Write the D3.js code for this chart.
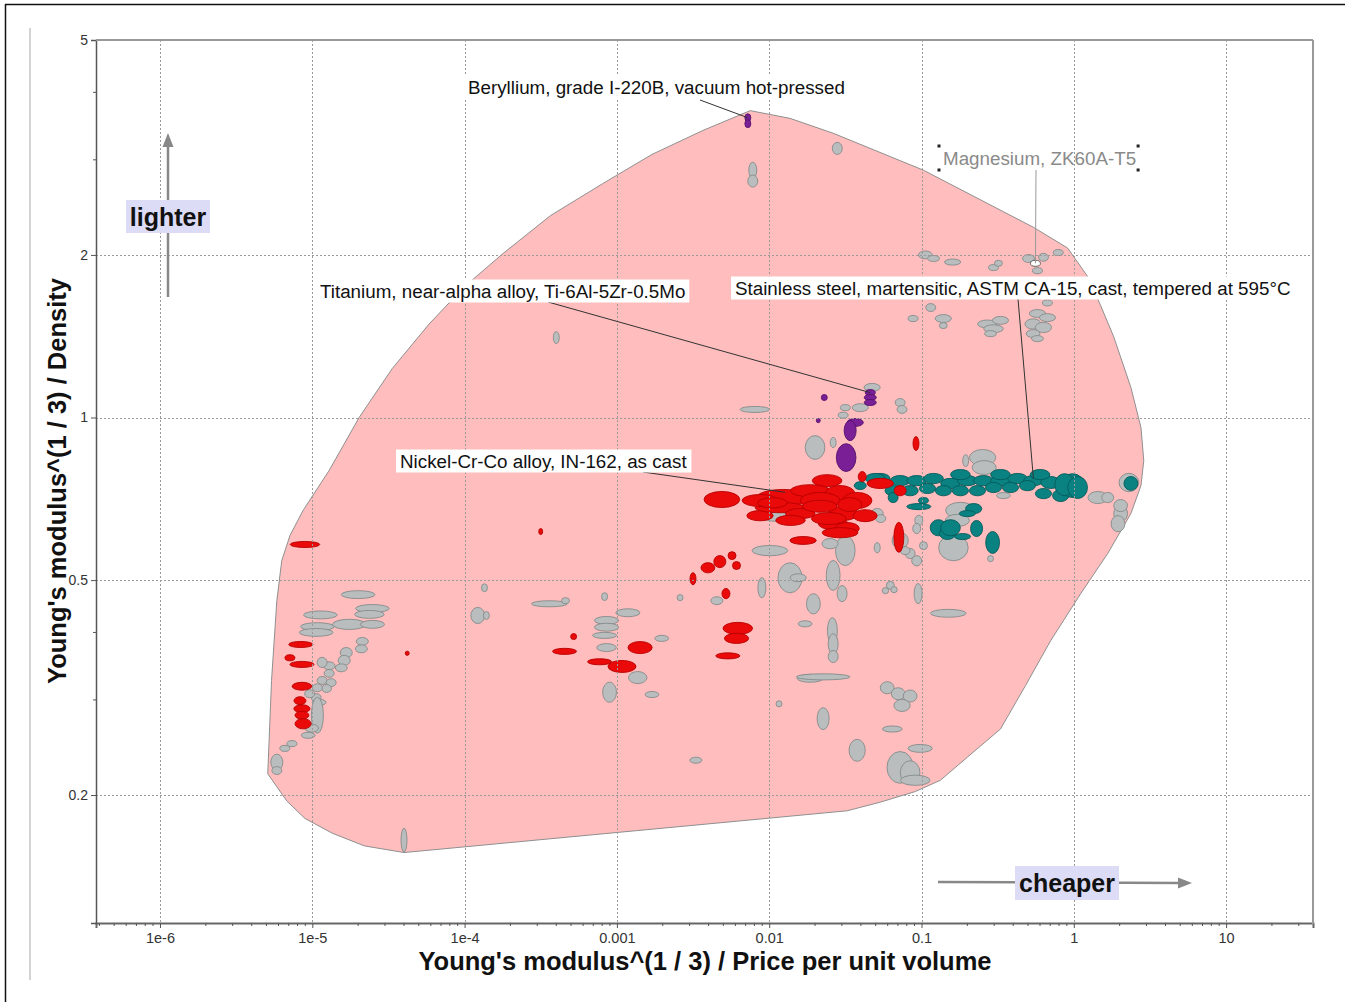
<!DOCTYPE html>
<html>
<head>
<meta charset="utf-8">
<script src="https://cdn.jsdelivr.net/npm/d3@7"></script>
<style>
  body { margin: 0; background: #fff; }
  svg { display: block; font-family: "Liberation Sans", Arial, Helvetica, sans-serif; }
</style>
</head>
<body>
<svg id="chart" width="1345" height="1002"></svg>
<script>
// ---- Axis ranges and ticks ----
const xDomain = [3.8e-7, 37.2];
const yDomain = [0.1159, 5];
const xMajorTicks = [1e-6, 1e-5, 1e-4, 1e-3, 1e-2, 1e-1, 1, 10];
const xTickLabels = ["1e-6", "1e-5", "1e-4", "0.001", "0.01", "0.1", "1", "10"];
const yMajorTicks = [0.2, 0.5, 1, 2, 5];
const yTickLabels = ["0.2", "0.5", "1", "2", "5"];
const yMinorTicks = [0.3, 0.4, 3, 4];

// ---- Property envelope of all metals: [E^(1/3)/(price*rho), E^(1/3)/rho] ----
const envelope = [
  [0.0075, 3.70], [0.0137, 3.58], [0.0263, 3.36], [0.103, 2.87], [0.543, 2.25], [0.91, 2.06],
  [1.24, 1.82], [1.50, 1.612], [1.83, 1.41], [2.37, 1.137], [2.76, 0.958], [2.88, 0.832],
  [2.76, 0.748], [2.37, 0.664], [1.67, 0.560], [1.11, 0.472], [0.704, 0.386],
  [0.482, 0.319], [0.33, 0.265], [0.20, 0.235], [0.133, 0.213], [0.091, 0.203],
  [0.0536, 0.194], [0.0325, 0.187], [4.0e-5, 0.1565], [2.2e-5, 0.161], [1.35e-5, 0.170],
  [8.95e-6, 0.181], [6.8e-6, 0.195], [5.1e-6, 0.219], [5.4e-6, 0.326], [5.85e-6, 0.458],
  [6.3e-6, 0.543], [7.14e-6, 0.605], [8.7e-6, 0.673], [1.29e-5, 0.798],
  [2.03e-5, 1.0], [3.35e-5, 1.232], [5.85e-5, 1.49], [1.0e-4, 1.748], [1.78e-4, 2.01],
  [3.67e-4, 2.366], [8.06e-4, 2.71], [1.70e-3, 3.07], [3.67e-3, 3.40]
];

// ---- Materials: [x centre, y centre, x spread factor, y spread factor] ----
const otherMetals = [
  [2.0e-5,0.47,1.29,1.017],[2.48e-5,0.443,1.29,1.017],[2.37e-5,0.432,1.25,1.017],
  [1.13e-5,0.431,1.29,1.017],[1.08e-5,0.41,1.29,1.017],[1.06e-5,0.40,1.29,1.017],
  [1.75e-5,0.414,1.29,1.022],[2.48e-5,0.414,1.2,1.017],[2.13e-5,0.385,1.095,1.017],
  [2.1e-5,0.373,1.095,1.017],[1.67e-5,0.367,1.095,1.022],[1.62e-5,0.355,1.095,1.022],
  [1.55e-5,0.344,1.095,1.017],[1.29e-5,0.347,1.095,1.017],[1.16e-5,0.352,1.078,1.022],
  [1.29e-5,0.336,1.078,1.017],[1.16e-5,0.326,1.078,1.017],[1.33e-5,0.323,1.078,1.017],
  [1.24e-5,0.315,1.078,1.017],[1.08e-5,0.316,1.078,1.017],[1.06e-5,0.303,1.078,1.017],
  [1.11e-5,0.297,1.11,1.013],[1.08e-5,0.281,1.095,1.08],[9.6e-6,0.308,1.078,1.017],
  [9.9e-6,0.266,1.11,1.017],[9.4e-6,0.258,1.11,1.013],[7.35e-6,0.249,1.078,1.013],
  [6.6e-6,0.244,1.078,1.013],[5.85e-6,0.23,1.095,1.035],[5.85e-6,0.222,1.078,1.017],
  [1.35e-4,0.484,1.046,1.017],[1.22e-4,0.43,1.11,1.035],[1.39e-4,0.43,1.046,1.017],
  [3.6e-4,0.452,1.31,1.013],[4.6e-4,0.458,1.062,1.013],[4.0e-5,0.165,1.046,1.052],
  [8.3e-4,0.466,1.046,1.017],[1.18e-3,0.435,1.2,1.017],[8.55e-4,0.421,1.2,1.017],
  [8.55e-4,0.409,1.2,1.017],[8.3e-4,0.395,1.2,1.013],[8.55e-4,0.375,1.16,1.017],
  [8.95e-4,0.310,1.11,1.044],[1.37e-3,0.330,1.15,1.026],[1.70e-3,0.307,1.11,1.013],
  [1.97e-3,0.390,1.11,1.013],[2.6e-3,0.464,1.046,1.013],[4.53e-3,0.458,1.095,1.017],
  [3.3e-3,0.232,1.095,1.013],[8.95e-3,0.484,1.062,1.044],[0.0137,0.505,1.2,1.066],
  [0.0155,0.505,1.13,1.017],[0.0195,0.452,1.11,1.044],[0.0172,0.415,1.11,1.013],
  [0.026,0.403,1.078,1.057],[0.0263,0.381,1.078,1.044],[0.0263,0.361,1.078,1.026],
  [0.0186,0.329,1.22,1.017],[0.0226,0.331,1.5,1.013],[0.0116,0.295,1.046,1.013],
  [0.0226,0.277,1.095,1.048],[0.0378,0.242,1.13,1.048],[0.0263,0.51,1.11,1.066],
  [0.0301,0.472,1.078,1.035],[0.0595,0.316,1.11,1.026],[0.0703,0.308,1.11,1.026],
  [0.0842,0.305,1.11,1.026],[0.0745,0.293,1.13,1.026],[0.0643,0.265,1.16,1.013],
  [0.098,0.244,1.2,1.017],[0.0724,0.225,1.22,1.07],[0.0842,0.22,1.16,1.052],
  [0.091,0.213,1.25,1.022],[0.095,0.472,1.062,1.044],[0.150,0.434,1.31,1.017],
  [0.0624,0.489,1.062,1.017],[0.066,0.48,1.05,1.013],[0.058,0.478,1.05,1.013],
  [0.162,0.574,1.25,1.057],[0.284,0.548,1.046,1.013],[0.020,0.88,1.16,1.052],
  [0.0263,0.899,1.046,1.022],[8.05e-3,1.035,1.25,1.013],[0.0316,1.043,1.078,1.013],
  [0.0306,1.01,1.078,1.013],[0.0396,1.043,1.13,1.017],[0.0474,1.137,1.13,1.017],
  [0.0724,1.066,1.078,1.017],[0.0745,1.035,1.078,1.017],[0.195,0.832,1.046,1.026],
  [0.0316,0.567,1.16,1.066],[0.0251,0.584,1.13,1.022],[0.0101,0.567,1.31,1.022],
  [4.0e-4,1.406,1.046,1.026],[0.028,3.15,1.078,1.026],[7.8e-3,2.87,1.062,1.035],
  [7.8e-3,2.74,1.078,1.026],[0.106,2.0,1.11,1.017],[0.12,1.97,1.095,1.013],
  [0.160,1.94,1.13,1.013],[0.297,1.895,1.078,1.013],[0.32,1.93,1.062,1.013],
  [0.504,1.97,1.095,1.017],[0.632,1.98,1.078,1.017],[0.577,1.87,1.078,1.013],
  [0.79,2.02,1.078,1.013],[0.088,1.525,1.078,1.013],[0.115,1.598,1.078,1.017],
  [0.139,1.525,1.13,1.017],[0.139,1.48,1.062,1.013],[0.271,1.49,1.16,1.017],
  [0.297,1.46,1.16,1.017],[0.33,1.513,1.13,1.017],[0.284,1.43,1.095,1.013],
  [0.577,1.558,1.13,1.017],[0.671,1.531,1.13,1.017],[0.54,1.49,1.13,1.022],
  [0.632,1.468,1.13,1.022],[0.54,1.43,1.11,1.017],[0.577,1.40,1.095,1.013],
  [0.671,1.63,1.078,1.013],[0.252,0.843,1.22,1.035],[0.258,0.808,1.2,1.03],
  [0.180,0.673,1.25,1.035],[0.172,0.645,1.2,1.026],[1.437,0.711,1.16,1.026],
  [1.67,0.711,1.095,1.022],[2.03,0.664,1.11,1.035],[1.95,0.636,1.11,1.035],
  [2.03,0.687,1.11,1.026],[0.345,0.717,1.11,1.013],[0.0512,0.664,1.095,1.022],
  [0.054,0.65,1.078,1.017],[0.096,0.645,1.062,1.022],[0.093,0.623,1.062,1.022],
  [0.0724,0.592,1.13,1.035],[0.0842,0.56,1.078,1.022],[0.093,0.543,1.078,1.022],
  [0.078,0.567,1.078,1.017],[0.103,0.579,1.062,1.017],[0.0512,0.574,1.046,1.022],
  [2.30,0.758,1.16,1.04],[0.0112,0.655,1.25,1.02]
];

const nickelAlloys = [
  [8.95e-6,0.582,1.25,1.013],[8.4e-6,0.38,1.2,1.013],[7.13e-6,0.359,1.078,1.013],
  [8.55e-6,0.349,1.2,1.013],[8.55e-6,0.318,1.16,1.017],[8.3e-6,0.299,1.095,1.017],
  [8.55e-6,0.289,1.13,1.017],[8.55e-6,0.281,1.11,1.017],[8.7e-6,0.271,1.13,1.022],
  [3.16e-4,0.615,1.03,1.013],[4.2e-5,0.366,1.03,1.009],
  [0.092,0.895,1.046,1.03],[0.0408,0.777,1.062,1.022],[4.89e-3,0.705,1.31,1.035],
  [8.7e-3,0.658,1.22,1.022],[0.024,0.764,1.25,1.026],[0.0124,0.711,1.5,1.035],
  [0.0186,0.732,1.35,1.026],[0.0292,0.723,1.25,1.035],[0.0378,0.702,1.25,1.035],
  [0.0118,0.681,1.46,1.022],[0.016,0.664,1.25,1.022],[0.0306,0.664,1.25,1.03],
  [0.0263,0.636,1.25,1.026],[0.0325,0.623,1.2,1.026],[0.0292,0.612,1.31,1.022],
  [0.0536,0.755,1.22,1.022],[0.0724,0.732,1.095,1.022],[0.071,0.600,1.078,1.066],
  [0.0167,0.592,1.22,1.017],[8.7e-3,0.702,1.31,1.026],[0.0216,0.702,1.35,1.035],
  [0.0426,0.658,1.2,1.026],[0.0138,0.645,1.25,1.022],[0.0215,0.685,1.3,1.026],
  [0.0338,0.690,1.2,1.03],[0.0105,0.695,1.25,1.022],[0.0246,0.650,1.3,1.026],
  [1.42e-3,0.375,1.2,1.026],[4.53e-4,0.369,1.2,1.013],[7.7e-4,0.353,1.2,1.013],
  [1.08e-3,0.346,1.236,1.026],[5.2e-4,0.393,1.046,1.013],[6.22e-3,0.407,1.25,1.026],
  [6.1e-3,0.390,1.2,1.022],[5.35e-3,0.362,1.2,1.013],[3.16e-3,0.503,1.046,1.026],
  [3.96e-3,0.527,1.11,1.022],[4.74e-3,0.541,1.095,1.026],[5.7e-3,0.555,1.062,1.017],
  [6.1e-3,0.532,1.062,1.017],[5.2e-3,0.472,1.062,1.022]
];

const stainlessSteels = [
  [0.0536,0.771,1.16,1.022],[0.0724,0.764,1.16,1.022],[0.093,0.764,1.16,1.022],
  [0.12,0.771,1.16,1.022],[0.155,0.755,1.16,1.022],[0.20,0.764,1.16,1.022],
  [0.255,0.764,1.16,1.022],[0.33,0.764,1.16,1.022],[0.427,0.771,1.16,1.022],
  [0.543,0.764,1.16,1.022],[0.704,0.758,1.16,1.026],
  [0.0651,0.732,1.13,1.022],[0.0842,0.732,1.13,1.022],[0.1095,0.739,1.13,1.022],
  [0.1394,0.732,1.13,1.022],[0.18,0.732,1.13,1.022],[0.233,0.732,1.13,1.022],
  [0.297,0.742,1.13,1.022],[0.384,0.742,1.13,1.022],[0.496,0.748,1.13,1.022],
  [0.632,0.723,1.13,1.022],[0.82,0.717,1.13,1.026],
  [0.18,0.784,1.16,1.022],[0.33,0.784,1.16,1.022],[0.60,0.784,1.16,1.022],
  [0.98,0.748,1.2,1.052],[0.87,0.751,1.16,1.048],[1.06,0.742,1.16,1.048],
  [0.0651,0.711,1.078,1.022],[0.096,0.684,1.2,1.013],[0.129,0.625,1.13,1.035],
  [0.148,0.610,1.13,1.026],[0.186,0.602,1.13,1.013],[0.23,0.623,1.095,1.035],
  [0.22,0.678,1.13,1.022],[0.20,0.664,1.13,1.013],[0.293,0.587,1.11,1.048],
  [2.37,0.755,1.11,1.03],[0.155,0.625,1.16,1.035],[0.0133,0.708,1.095,1.013],
  [0.103,0.702,1.078,1.013],[0.0496,0.771,1.16,1.022],[0.0396,0.748,1.095,1.017]
];

const titaniumBeryllium = [
  [7.24e-3,3.59,1.046,1.017],[7.24e-3,3.50,1.046,1.017],
  [0.0461,1.112,1.078,1.013],[0.0461,1.089,1.095,1.013],[0.0461,1.066,1.095,1.013],
  [0.0230,1.089,1.046,1.013],[0.021,0.987,1.03,1.009],[0.0367,0.979,1.13,1.017],
  [0.034,0.946,1.095,1.044],[0.032,0.843,1.16,1.061]
];

const magnesiumZK60A = [0.56, 1.93, 1.078, 1.013];

// ---- Annotated records (label text, material they point at) ----
const labelTexts = [
  "Beryllium, grade I-220B, vacuum hot-pressed",
  "Titanium, near-alpha alloy, Ti-6Al-5Zr-0.5Mo",
  "Nickel-Cr-Co alloy, IN-162, as cast",
  "Stainless steel, martensitic, ASTM CA-15, cast, tempered at 595°C"
];
const labelTargets = [
  [7.24e-3, 3.59], [0.0461, 1.112], [0.0127, 0.727], [0.543, 0.771]
];

// ---- Layout ----
const svg = d3.select("#chart");
const plot = { left: 96, right: 1313, top: 40, bottom: 923 };
const x = d3.scaleLog().domain(xDomain).range([plot.left, plot.right]);
const y = d3.scaleLog().domain(yDomain).range([plot.bottom, plot.top]);

// page frame
svg.append("line").attr("x1", 5).attr("y1", 4.5).attr("x2", 1345).attr("y2", 4.5)
  .attr("stroke", "#111").attr("stroke-width", 1.5);
svg.append("line").attr("x1", 5.5).attr("y1", 4).attr("x2", 5.5).attr("y2", 1002)
  .attr("stroke", "#111").attr("stroke-width", 1.5);
svg.append("line").attr("x1", 30).attr("y1", 28).attr("x2", 30).attr("y2", 980)
  .attr("stroke", "#d4d4d4").attr("stroke-width", 2);

svg.append("defs").append("clipPath").attr("id", "plotclip")
  .append("rect").attr("x", plot.left).attr("y", plot.top)
  .attr("width", plot.right - plot.left).attr("height", plot.bottom - plot.top);

const g = svg.append("g").attr("clip-path", "url(#plotclip)");

// envelope
g.append("path")
  .datum(envelope)
  .attr("d", d3.line().x(d => x(d[0])).y(d => y(d[1])).curve(d3.curveLinearClosed))
  .attr("fill", "#ffbdbd").attr("stroke", "#8f8f8f").attr("stroke-width", 1)
  .attr("stroke-linejoin", "round");

// grid
const grid = svg.append("g").attr("stroke", "#9a9a9a").attr("stroke-dasharray", "2,2").attr("stroke-width", 1);
grid.selectAll("line.gx").data(xMajorTicks).join("line")
  .attr("x1", d => Math.round(x(d)) + 0.5).attr("x2", d => Math.round(x(d)) + 0.5)
  .attr("y1", plot.top).attr("y2", plot.bottom);
grid.selectAll("line.gy").data(yMajorTicks).join("line")
  .attr("y1", d => Math.round(y(d)) + 0.5).attr("y2", d => Math.round(y(d)) + 0.5)
  .attr("x1", plot.left).attr("x2", plot.right);

// material bubbles
function drawBubbles(data, fill, stroke) {
  g.append("g").selectAll("ellipse").data(data).join("ellipse")
    .attr("cx", d => x(d[0]))
    .attr("cy", d => y(d[1]))
    .attr("rx", d => (x(d[0] * d[2]) - x(d[0] / d[2])) / 2)
    .attr("ry", d => (y(d[1] / d[3]) - y(d[1] * d[3])) / 2)
    .attr("fill", fill).attr("stroke", stroke).attr("stroke-width", 0.9);
}
drawBubbles(otherMetals, "#b9bdbd", "#858b8b");
drawBubbles(stainlessSteels, "#0b8282", "#035a5a");
drawBubbles(nickelAlloys, "#ea0a0a", "#b80000");
drawBubbles(titaniumBeryllium, "#7a1f96", "#55106b");
drawBubbles([magnesiumZK60A], "#ffffff", "#555");

// axes
const axisColor = "#555";
const xAxis = d3.axisBottom(x).tickValues(xMajorTicks)
  .tickFormat((d, i) => xTickLabels[i]).tickSize(5).tickPadding(5);
const xMinor = [];
xMajorTicks.concat([1e-7]).forEach(b => { for (let k = 2; k <= 9; k++) { const v = b * k; if (v > xDomain[0] && v < xDomain[1]) xMinor.push(v); } });
const gx = svg.append("g").attr("transform", `translate(0,${plot.bottom})`).call(xAxis);
svg.append("g").attr("transform", `translate(0,${plot.bottom})`)
  .selectAll("line").data(xMinor).join("line")
  .attr("x1", d => x(d)).attr("x2", d => x(d)).attr("y1", 0).attr("y2", 3)
  .attr("stroke", axisColor);
gx.select(".domain").attr("stroke", "#666").attr("stroke-width", 2);
gx.selectAll(".tick line").attr("stroke", axisColor);
gx.selectAll(".tick text").attr("font-size", 14.5).attr("fill", "#333")
  .attr("font-family", "Liberation Sans, Arial, sans-serif");

const yAxis = d3.axisLeft(y).tickValues(yMajorTicks)
  .tickFormat((d, i) => yTickLabels[i]).tickSize(5).tickPadding(3);
const gy = svg.append("g").attr("transform", `translate(${plot.left},0)`).call(yAxis);
svg.append("g").attr("transform", `translate(${plot.left},0)`)
  .selectAll("line").data(yMinorTicks).join("line")
  .attr("x1", -3).attr("x2", 0).attr("y1", d => y(d)).attr("y2", d => y(d))
  .attr("stroke", axisColor);
gy.select(".domain").attr("stroke", "#555").attr("stroke-width", 1.5);
gy.selectAll(".tick line").attr("stroke", axisColor);
gy.selectAll(".tick text").attr("font-size", 14).attr("fill", "#333")
  .attr("font-family", "Liberation Sans, Arial, sans-serif");

// top and right frame
svg.append("line").attr("x1", plot.left).attr("x2", plot.right).attr("y1", plot.top).attr("y2", plot.top)
  .attr("stroke", "#999").attr("stroke-width", 2);
svg.append("line").attr("x1", plot.right).attr("x2", plot.right).attr("y1", plot.top).attr("y2", plot.bottom + 1)
  .attr("stroke", "#999").attr("stroke-width", 2);

// axis titles
svg.append("text").attr("x", 705).attr("y", 961).attr("text-anchor", "middle")
  .attr("dominant-baseline", "central").attr("font-weight", "bold").attr("font-size", 25.5)
  .attr("fill", "#111").text("Young's modulus^(1 / 3) / Price per unit volume");
svg.append("text").attr("transform", "translate(57,481) rotate(-90)").attr("text-anchor", "middle")
  .attr("dominant-baseline", "central").attr("font-weight", "bold").attr("font-size", 25.5)
  .attr("fill", "#111").text("Young's modulus^(1 / 3) / Density");

// direction hints
const hint = svg.append("g");
hint.append("line").attr("x1", 168).attr("y1", 297).attr("x2", 168).attr("y2", 145)
  .attr("stroke", "#888").attr("stroke-width", 2.5);
hint.append("path").attr("d", "M168,133 L162.5,147 L173.5,147 Z").attr("fill", "#888");
hint.append("rect").attr("x", 126).attr("y", 200).attr("width", 84).attr("height", 33).attr("fill", "#dcdcf6");
hint.append("text").attr("x", 168).attr("y", 217).attr("text-anchor", "middle").attr("dominant-baseline", "central")
  .attr("font-weight", "bold").attr("font-size", 25).attr("fill", "#111").text("lighter");

hint.append("line").attr("x1", 938).attr("y1", 882).attr("x2", 1180).attr("y2", 883)
  .attr("stroke", "#888").attr("stroke-width", 2.5);
hint.append("path").attr("d", "M1192,883 L1178,877.5 L1178,888.5 Z").attr("fill", "#888");
hint.append("rect").attr("x", 1015).attr("y", 866).attr("width", 104).attr("height", 34).attr("fill", "#dcdcf6");
hint.append("text").attr("x", 1067).attr("y", 883).attr("text-anchor", "middle").attr("dominant-baseline", "central")
  .attr("font-weight", "bold").attr("font-size", 25).attr("fill", "#111").text("cheaper");

// annotation labels with leader lines
const labelLayout = [
  { tx: 468, ty: 87, lx: 700, ly: 100 },
  { tx: 320, ty: 291, lx: 548, ly: 302 },
  { tx: 400, ty: 461, lx: 643, ly: 472 },
  { tx: 735, ty: 288, lx: 1018, ly: 299 }
];
const ann = svg.append("g");
labelTexts.forEach((t, i) => {
  const L = labelLayout[i];
  ann.append("line").attr("x1", L.lx).attr("y1", L.ly)
    .attr("x2", x(labelTargets[i][0])).attr("y2", y(labelTargets[i][1]))
    .attr("stroke", "#333").attr("stroke-width", 1);
  const grp = ann.append("g");
  const txt = grp.append("text").attr("x", L.tx).attr("y", L.ty).attr("dominant-baseline", "central")
    .attr("font-size", 18.8).attr("fill", "#111").text(t);
  const bb = txt.node().getBBox();
  grp.insert("rect", "text").attr("x", bb.x - 4).attr("y", L.ty - 11.5)
    .attr("width", bb.width + 8).attr("height", 23).attr("fill", "#fff");
});

// Magnesium selection label
const mg = svg.append("g");
mg.append("line").attr("x1", 1036).attr("y1", 170)
  .attr("x2", x(magnesiumZK60A[0])).attr("y2", y(magnesiumZK60A[1]))
  .attr("stroke", "#999").attr("stroke-width", 1);
const mgText = mg.append("text").attr("x", 943).attr("y", 158).attr("dominant-baseline", "central")
  .attr("font-size", 18.8).attr("fill", "#8a8a8a").text("Magnesium, ZK60A-T5");
const mb = mgText.node().getBBox();
[[mb.x - 4, 146], [mb.x + mb.width + 2, 146], [mb.x - 4, 170], [mb.x + mb.width + 2, 170]].forEach(p => {
  mg.append("rect").attr("x", p[0] - 1.5).attr("y", p[1] - 1.5).attr("width", 3).attr("height", 3).attr("fill", "#222");
});
</script>
</body>
</html>
